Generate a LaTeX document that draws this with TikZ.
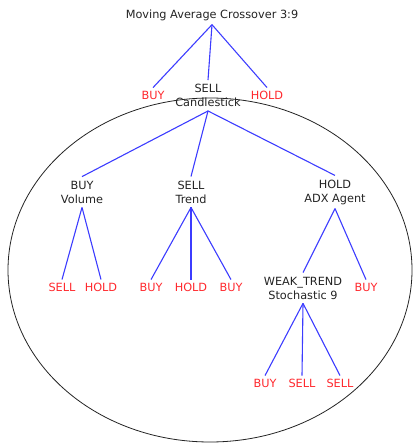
\documentclass[tikz,border=0pt]{standalone}
\usepackage{fontspec}
\setmainfont{DejaVu Sans}
\definecolor{sigred}{RGB}{255,40,45}
\definecolor{linkblue}{RGB}{60,60,255}
\definecolor{inkgray}{RGB}{35,35,35}

\begin{document}
\begin{tikzpicture}
[   x=1pt, y=-1pt,
    agent/.style={text=inkgray, align=center, inner sep=4pt, font=\fontsize{11.3}{14}\selectfont},
    signal/.style={text=sigred, inner sep=3pt, font=\fontsize{11.3}{14}\selectfont},
    link/.style={linkblue, line width=1.1pt}
]
    \useasboundingbox (0,0) rectangle (417,443);
    \draw[inkgray, line width=0.8pt] (210,270) ellipse [x radius=202, y radius=172];

    \node[agent] (root) at (212,15) {Moving Average Crossover 3:9};
    \node[signal] (m-buy) at (153,95) {BUY};
    \node[agent] (candle) at (208,95.5) {SELL\\Candlestick};
    \node[signal] (m-hold) at (267,95) {HOLD};

    \node[agent] (volume) at (82,192) {BUY\\Volume};
    \node[agent] (trend) at (191,192) {SELL\\Trend};
    \node[agent] (adx) at (335,192) {HOLD\\ADX Agent};

    \node[signal] (v-sell) at (62,287) {SELL};
    \node[signal] (v-hold) at (101,287) {HOLD};
    \node[signal] (t-buy) at (151,287) {BUY};
    \node[signal] (t-hold) at (191,287) {HOLD};
    \node[signal] (t-buy2) at (231,287) {BUY};
    \node[agent] (stoch) at (303,288) {WEAK\_TREND\\Stochastic 9};
    \node[signal] (a-buy) at (366,287) {BUY};

    \node[signal] (s-buy) at (265,383) {BUY};
    \node[signal] (s-sell) at (302,383) {SELL};
    \node[signal] (s-sell2) at (340,383) {SELL};

    \foreach \c in {m-buy,candle,m-hold}
    {   \draw[link] (root.south) -- (\c.north);
    }
    \foreach \c in {volume,trend,adx}
    {   \draw[link] (candle.south) -- (\c.north);
    }
    \foreach \c in {v-sell,v-hold}
    {   \draw[link] (volume.south) -- (\c.north);
    }
    \foreach \c in {t-buy,t-hold,t-buy2}
    {   \draw[link] (trend.south) -- (\c.north);
    }
    \foreach \c in {stoch,a-buy}
    {   \draw[link] (adx.south) -- (\c.north);
    }
    \foreach \c in {s-buy,s-sell,s-sell2}
    {   \draw[link] (stoch.south) -- (\c.north);
    }
\end{tikzpicture}
\end{document}
